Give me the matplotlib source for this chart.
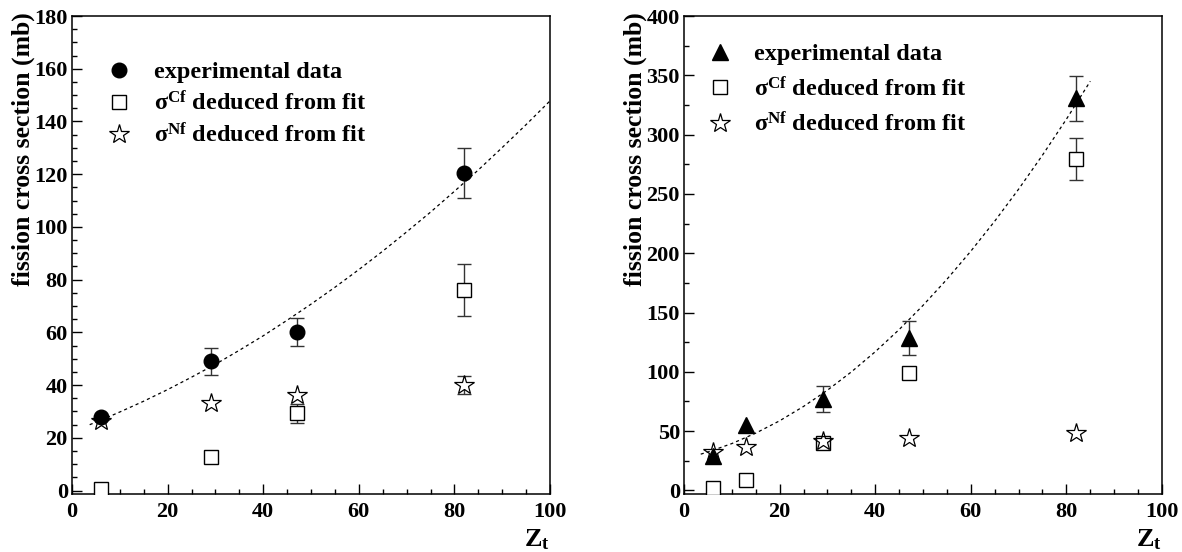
import numpy as np
import matplotlib
matplotlib.use("Agg")
import matplotlib.pyplot as plt
from matplotlib.ticker import MultipleLocator
from matplotlib.lines import Line2D

plt.rcParams['font.family'] = ['Liberation Serif', 'DejaVu Serif']
plt.rcParams['font.weight'] = 'bold'
plt.rcParams['mathtext.fontset'] = 'custom'
plt.rcParams['mathtext.rm'] = 'Liberation Serif:bold'
plt.rcParams['mathtext.bf'] = 'Liberation Serif:bold'
plt.rcParams['mathtext.it'] = 'Liberation Serif:bold'

# ---- left panel data ----
zL = [6, 29, 47, 82]
expL = [27.9, 49.0, 60.2, 120.4]
expL_err = [0, 5.0, 5.3, 9.5]
cfL = [0.7, 12.8, 29.3, 76.0]
cfL_err = [0, 0, 3.6, 9.8]
nfL = [26.3, 33.3, 36.3, 40.0]
nfL_err = [0, 0, 0, 3.5]
fitL_z = [3.7, 5, 10, 15, 20, 25, 30, 35, 40, 45, 50, 55, 60, 65, 70, 75, 80, 85, 90, 95, 100]
fitL_y = [25.0, 25.9, 29.8, 33.9, 38.3, 43.0, 47.9, 53.2, 58.7, 64.6, 70.7, 77.1, 83.8,
          90.8, 98.1, 105.6, 113.5, 121.6, 130.1, 138.8, 147.8]

# ---- right panel data ----
zR = [6, 13, 29, 47, 82]
expR = [29.0, 55.0, 77.0, 128.4, 330.7]
expR_err = [0, 0, 11.0, 14.2, 19.0]
cfR = [2.4, 9.0, 40.3, 99.4, 279.4]
cfR_err = [0, 0, 0, 2.5, 18.0]
nfR = [32.2, 36.7, 41.8, 44.2, 48.7]
nfR_err = [0, 0, 0, 0, 0]
fitR_z = [3.5, 5, 10, 15, 20, 25, 30, 35, 40, 45, 50, 55, 60, 65, 70, 75, 80, 85]
fitR_y = [30.6, 32.4, 39.5, 48.3, 58.7, 70.8, 84.5, 99.9, 116.9, 135.6, 156.0, 178.0,
          201.7, 227.0, 254.0, 282.7, 313.0, 345.0]

labels = ['experimental data',
          r'$\mathrm{\sigma^{Cf}}$ deduced from fit',
          r'$\mathrm{\sigma^{Nf}}$ deduced from fit']

fig = plt.figure(figsize=(11.82, 5.52), dpi=100)
axL = fig.add_axes([72/1182, 58/552, 478/1182, 478/552])
axR = fig.add_axes([684/1182, 58/552, 478/1182, 478/552])

ERRC = '#333333'
TICK_FS = 16
LEG_FS = 17.5


def errbars(ax, z, y, e):
    z = np.asarray(z, float); y = np.asarray(y, float); e = np.asarray(e, float)
    m = e > 0
    if m.any():
        ax.errorbar(z[m], y[m], yerr=e[m], fmt='none', ecolor=ERRC, elinewidth=1.0,
                    capsize=5, capthick=1.0, zorder=2)


def style(ax, ymin, ymax, ymaj, ymin_step):
    ax.set_xlim(0, 100)
    ax.set_ylim(ymin, ymax)
    ax.xaxis.set_major_locator(MultipleLocator(20))
    ax.xaxis.set_minor_locator(MultipleLocator(5))
    ax.yaxis.set_major_locator(MultipleLocator(ymaj))
    ax.yaxis.set_minor_locator(MultipleLocator(ymin_step))
    ax.tick_params(which='both', direction='in', top=False, right=False, width=1.0,
                   labelsize=TICK_FS)
    ax.tick_params(which='major', length=7)
    ax.tick_params(axis='y', which='major', pad=3)
    ax.tick_params(axis='x', which='major', pad=6)
    ax.tick_params(which='minor', length=3.5)
    for lab in ax.get_xticklabels() + ax.get_yticklabels():
        lab.set_fontweight('bold')
    for s in ax.spines.values():
        s.set_linewidth(1.1)
    ax.set_ylabel('fission cross section (mb)', fontsize=18.5, fontweight='bold', loc='top')
    ax.yaxis.set_label_coords(-0.077, 1.008)
    bb = ax.get_position()
    fig.text(bb.x1, 0.0, r'$\mathrm{Z_t}$', ha='right', va='bottom', fontsize=19)


# ---- left ----
axL.plot(fitL_z, fitL_y, color='black', lw=0.9, ls=(0, (2.5, 2.5)), zorder=1)
errbars(axL, zL, cfL, cfL_err)
errbars(axL, zL, nfL, nfL_err)
errbars(axL, zL, expL, expL_err)
axL.plot(zL, cfL, ls='none', marker='s', ms=9.5, mfc='white', mec='black', mew=1.0, zorder=3)
axL.plot(zL, nfL, ls='none', marker='*', ms=15, mfc='white', mec='black', mew=0.9, zorder=4)
axL.plot(zL, expL, ls='none', marker='o', ms=10.5, mfc='black', mec='black', zorder=5)
style(axL, -1.3, 180, 20, 5)
hL = [Line2D([], [], ls='none', marker='o', ms=10.5, color='black'),
      Line2D([], [], ls='none', marker='s', ms=9.5, mfc='white', mec='black', mew=1.0),
      Line2D([], [], ls='none', marker='*', ms=15, mfc='white', mec='black', mew=0.9)]
axL.legend(hL, labels, loc='upper left', bbox_to_anchor=(0.072, 0.905), frameon=False,
           fontsize=LEG_FS, handlelength=1.0, handletextpad=0.95, labelspacing=0.3,
           borderpad=0, borderaxespad=0)

# ---- right ----
axR.plot(fitR_z, fitR_y, color='black', lw=0.9, ls=(0, (2.5, 2.5)), zorder=1)
errbars(axR, zR, expR, expR_err)
errbars(axR, zR, cfR, cfR_err)
axR.plot(zR, expR, ls='none', marker='^', ms=11, mfc='black', mec='black', zorder=3)
axR.plot(zR, cfR, ls='none', marker='s', ms=9.5, mfc='white', mec='black', mew=1.0, zorder=4)
axR.plot(zR, nfR, ls='none', marker='*', ms=15, mfc='none', mec='black', mew=0.9, zorder=5)
style(axR, -3, 400, 50, 25)
hR = [Line2D([], [], ls='none', marker='^', ms=11, color='black'),
      Line2D([], [], ls='none', marker='s', ms=9.5, mfc='white', mec='black', mew=1.0),
      Line2D([], [], ls='none', marker='*', ms=15, mfc='white', mec='black', mew=0.9)]
axR.legend(hR, labels, loc='upper left', bbox_to_anchor=(0.049, 0.943), frameon=False,
           fontsize=LEG_FS, handlelength=1.0, handletextpad=0.9, labelspacing=0.46,
           borderpad=0, borderaxespad=0)

fig.savefig('out.png', dpi=100)
